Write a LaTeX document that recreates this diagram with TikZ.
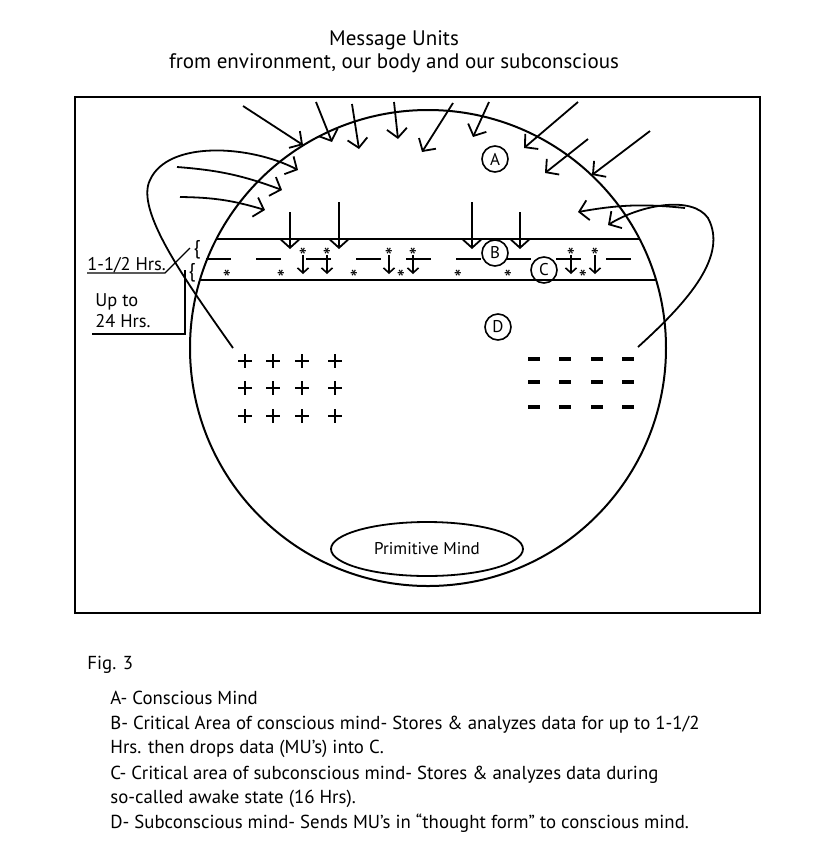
\documentclass[tikz,border=0pt]{standalone}
\usepackage{fontspec}
\setmainfont{PT Sans}
\usetikzlibrary{arrows.meta,shapes.geometric}

\tikzset{
  msg/.style={-{Straight Barb[length=4.5pt,width=10pt]}, line width=0.9pt},
  drop/.style={-{Straight Barb[length=2.5pt,width=5.5pt]}, line width=0.8pt},
  letter/.style={circle, draw, line width=0.8pt, inner sep=0pt, minimum size=13pt, font=\fontsize{8.5}{10}\selectfont},
  mustar/.style={inner sep=0pt, anchor=base, font=\fontsize{11.5}{12}\selectfont},
  hrs/.style={inner sep=0pt, anchor=base west, font=\fontsize{9.2}{11}\selectfont},
  legend/.style={inner sep=0pt, anchor=base west, font=\fontsize{9.4}{11}\selectfont}
}

\begin{document}
\begin{tikzpicture}[x=0.5pt, y=-0.5pt]
\useasboundingbox (0,0) rectangle (825,864);

% Title
\node[align=center, font=\fontsize{10.5}{11.5}\selectfont] (title) at (394,52) {Message Units\\from environment, our body and our subconscious};

% Frame
\draw[line width=1.2pt] (75,97) rectangle (760,613);

% Mind
\draw[line width=1pt] (428,348) circle[radius=238];

% Critical band (B above, C below)
\begin{scope}
\clip (428,348) circle[radius=238];
\draw[line width=0.8pt] (150,239) -- (700,239);
\draw[line width=1pt] (150,280) -- (700,280);
\end{scope}
\foreach \x in {206,256,...,606} \draw[line width=1pt] (\x,259) -- ++(25,0);

% Region letters
\node[letter] (A) at (495,159) {A};
\node[letter] (B) at (495,253) {B};
\node[letter] (C) at (544,270) {C};
\node[letter] (D) at (498,327) {D};

% Primitive mind
\node[draw, ellipse, line width=0.9pt, minimum width=96pt, minimum height=27pt, font=\fontsize{8.5}{10}\selectfont] (prim) at (427,549) {Primitive Mind};

% Message units coming in from above
\draw[msg] (243,106) -- (303,145);
\draw[msg] (316,102) -- (332,142);
\draw[msg] (352,104) -- (359,149);
\draw[msg] (394,102) -- (398,139);
\draw[msg] (453,103) -- (422,152);
\draw[msg] (489,102) -- (473,137);
\draw[msg] (578,102) -- (524,148);
\draw[msg] (588,139) -- (545,173);
\draw[msg] (650,131) -- (592,175);

% Message units from the left (body)
\draw[msg] (233,348) .. controls (185,280) and (135,210) .. (150,180) .. controls (168,140) and (250,145) .. (298,170);
\draw[msg] (177,167) to[bend left=8] (282,190);
\draw[msg] (180,197) to[bend left=8] (265,210);

% Message units from the right (subconscious)
\draw[msg] (638,347) .. controls (690,300) and (728,255) .. (708,218) .. controls (692,195) and (640,205) .. (608,225);
\draw[msg] (685,208) to[bend right=8] (578,212);

% Drops into critical area
\draw[msg] (290,212) -- (290,249);
\draw[msg] (339,202) -- (339,249);
\draw[msg] (472,202) -- (472,249);
\draw[msg] (520,212) -- (520,249);

% Data in the critical band
\foreach \x in {303,327,389,413,571,595} {
  \node[mustar] (up\x) at (\x,264) {*};
  \draw[drop] (\x,255) -- (\x,274);
}
\foreach \x in {227,281,354,401,458,508,583}
  \node[mustar] (lo\x) at (\x,286) {*};

% Thought forms in the subconscious
\foreach \x in {245,273,302,335}
  \foreach \y in {361,388,416}
    \draw[line width=0.7pt] (\x-7,\y) -- (\x+7,\y) (\x,\y-7) -- (\x,\y+7);
\foreach \x in {534,565,597,628}
  \foreach \y in {359,382,407}
    \draw[line width=1.6pt] (\x-6,\y) -- (\x+6,\y);

% Time labels
\node[hrs] (short) at (87,270) {1-1/2 Hrs.};
\node[hrs] (upto) at (95,306) {Up to};
\node[hrs] (long) at (95,327) {24 Hrs.};
\draw[line width=0.7pt] (87,273) -- (165,273) -- (190,248);
\draw[line width=0.7pt] (92,334) -- (185,334) -- (185,270);
\node[font=\fontsize{10}{11}\selectfont, inner sep=0pt] (brace1) at (197,250) {\{};
\node[font=\fontsize{10}{11}\selectfont, inner sep=0pt] (brace2) at (192,273) {\{};

% Legend
\node[legend] (fig) at (87,669) {Fig. 3};
\node[legend] (la) at (110,704) {A- Conscious Mind};
\node[legend] (lb) at (110,729) {B- Critical Area of conscious mind- Stores \& analyzes data for up to 1-1/2};
\node[legend] (lb2) at (110,753) {Hrs. then drops data (MU’s) into C.};
\node[legend] (lc) at (110,779) {C- Critical area of subconscious mind- Stores \& analyzes data during};
\node[legend] (lc2) at (110,803) {so-called awake state (16 Hrs).};
\node[legend] (ld) at (110,828) {D- Subconscious mind- Sends MU’s in “thought form” to conscious mind.};
\end{tikzpicture}
\end{document}
